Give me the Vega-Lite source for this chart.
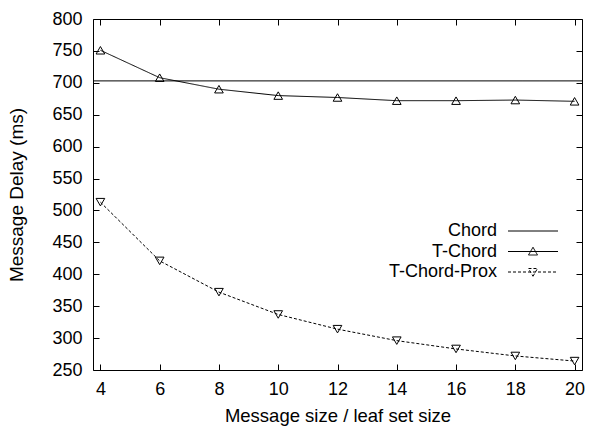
{
  "$schema": "https://vega.github.io/schema/vega-lite/v6.json",
  "width": 489,
  "height": 351,
  "autosize": {"type": "none"},
  "padding": {"left": 93, "top": 19, "right": 7, "bottom": 57},
  "background": "white",
  "config": {
    "view": {"stroke": "black", "strokeWidth": 1},
    "font": "Liberation Sans",
    "axis": {
      "grid": false,
      "domain": false,
      "tickColor": "black",
      "tickSize": -6,
      "labelColor": "black",
      "labelFont": "Liberation Sans",
      "labelFontSize": 18,
      "titleFont": "Liberation Sans",
      "titleFontSize": 19,
      "titleFontWeight": "normal",
      "titleColor": "black"
    }
  },
  "datasets": {
    "chord": [{"series": "Chord", "delay": 703}],
    "tchord": [
      {"series": "T-Chord", "size": 4, "delay": 751},
      {"series": "T-Chord", "size": 6, "delay": 708},
      {"series": "T-Chord", "size": 8, "delay": 690},
      {"series": "T-Chord", "size": 10, "delay": 680},
      {"series": "T-Chord", "size": 12, "delay": 677},
      {"series": "T-Chord", "size": 14, "delay": 672},
      {"series": "T-Chord", "size": 16, "delay": 672},
      {"series": "T-Chord", "size": 18, "delay": 673},
      {"series": "T-Chord", "size": 20, "delay": 671},
      {"series": "T-Chord-Prox", "size": 4, "delay": 513},
      {"series": "T-Chord-Prox", "size": 6, "delay": 421},
      {"series": "T-Chord-Prox", "size": 8, "delay": 372},
      {"series": "T-Chord-Prox", "size": 10, "delay": 337},
      {"series": "T-Chord-Prox", "size": 12, "delay": 314},
      {"series": "T-Chord-Prox", "size": 14, "delay": 296},
      {"series": "T-Chord-Prox", "size": 16, "delay": 283},
      {"series": "T-Chord-Prox", "size": 18, "delay": 272},
      {"series": "T-Chord-Prox", "size": 20, "delay": 264}
    ]
  },
  "layer": [
    {
      "data": {"name": "chord"},
      "mark": {"type": "rule", "color": "black", "strokeWidth": 1},
      "encoding": {
        "y": {"field": "delay", "type": "quantitative", "axis": null},
        "strokeDash": {"field": "series", "type": "nominal"}
      }
    },
    {
      "data": {"name": "tchord"},
      "mark": {"type": "line", "color": "black", "strokeWidth": 1},
      "encoding": {
        "x": {
          "field": "size", "type": "quantitative",
          "scale": {"domain": [3.75, 20.25], "nice": false, "zero": false},
          "axis": {"orient": "bottom", "values": [4, 6, 8, 10, 12, 14, 16, 18, 20], "title": "Message size / leaf set size", "titleFontSize": 18.5, "labelPadding": 16, "titlePadding": 8, "labelFlush": false}
        },
        "y": {
          "field": "delay", "type": "quantitative",
          "scale": {"domain": [250, 800], "nice": false, "zero": false},
          "axis": {"orient": "left", "values": [250, 300, 350, 400, 450, 500, 550, 600, 650, 700, 750, 800], "title": "Message Delay (ms)", "labelPadding": 17, "titlePadding": 25}
        },
        "strokeDash": {
          "field": "series", "type": "nominal",
          "scale": {"domain": ["Chord", "T-Chord", "T-Chord-Prox"], "range": [[1, 0], [1, 0], [3, 2]]},
          "legend": {
            "orient": "none",
            "legendX": 431,
            "legendY": 203,
            "title": null,
            "direction": "vertical",
            "padding": 0,
            "symbolSize": 100,
            "symbolOffset": 0,
            "symbolStrokeColor": "black",
            "symbolStrokeWidth": 1,
            "symbolFillColor": "transparent",
            "labelFont": "Liberation Sans",
            "labelFontSize": 18,
            "labelColor": "black",
            "labelAlign": "right",
            "labelOffset": -45,
            "rowPadding": 2.5,
            "encode": {
              "symbols": {
                "update": {
                  "shape": {"signal": "datum.value === 'Chord' ? 'M-5,0H5' : datum.value === 'T-Chord' ? 'M-5,0H5M0,-0.85L0.9,0.7L-0.9,0.7Z' : 'M-5,0h0.6M-4,0h0.6M-3,0h0.6M-2,0h0.6M-1,0h0.6M0,0h0.6M1,0h0.6M2,0h0.6M3,0h0.6M4,0h0.6M0,0.85L0.9,-0.7L-0.9,-0.7Z'"},
                  "strokeDash": {"value": []},
                  "fill": {"value": "transparent"},
                  "stroke": {"value": "black"}
                }
              }
            }
          }
        }
      }
    },
    {
      "data": {"name": "tchord"},
      "mark": {"type": "point", "filled": false, "color": "black", "strokeWidth": 1, "size": 75, "opacity": 1},
      "encoding": {
        "x": {
          "field": "size", "type": "quantitative",
          "axis": {"orient": "top", "values": [4, 6, 8, 10, 12, 14, 16, 18, 20], "labels": false, "title": null}
        },
        "y": {
          "field": "delay", "type": "quantitative",
          "axis": {"orient": "right", "values": [250, 300, 350, 400, 450, 500, 550, 600, 650, 700, 750, 800], "labels": false, "title": null}
        },
        "shape": {
          "field": "series", "type": "nominal",
          "scale": {"domain": ["T-Chord", "T-Chord-Prox"], "range": ["triangle-up", "triangle-down"]},
          "legend": null
        }
      }
    }
  ],
  "resolve": {"axis": {"x": "independent", "y": "independent"}}
}
